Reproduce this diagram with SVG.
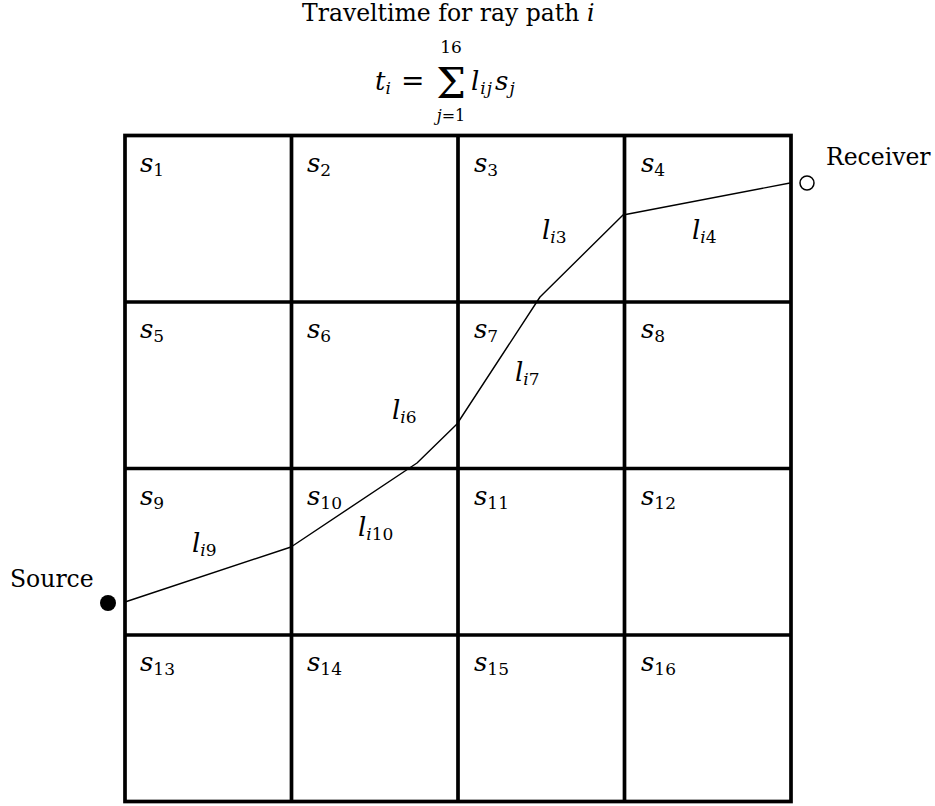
<svg xmlns="http://www.w3.org/2000/svg" width="935" height="806" viewBox="0 0 935 806">
<style>
text{font-family:"DejaVu Serif","Liberation Serif",serif;fill:#000}
.rm{font-size:23.5px}
.m{font-size:26px;font-style:italic}
.sub{font-size:17px;font-style:normal}
.subi{font-size:17px;font-style:italic}
.grid{stroke:#000;stroke-width:3.7;fill:none}
.ray{stroke:#000;stroke-width:1.4;fill:none;stroke-linejoin:round}
</style>
<rect width="935" height="806" fill="#fff"/>
<g id="title">
<text class="rm" x="302" y="21">Traveltime for ray path <tspan font-style="italic">i</tspan></text>
</g>
<g id="formula">
<text class="m" x="375" y="90" font-size="27">t<tspan class="subi" dy="4">i</tspan></text>
<text x="401" y="90" font-size="28">=</text>
<text x="451" y="98" font-size="42" text-anchor="middle">Σ</text>
<text x="451" y="53" font-size="17" text-anchor="middle">16</text>
<text x="451" y="121" font-size="16" text-anchor="middle"><tspan font-style="italic">j</tspan>=1</text>
<text class="m" x="471" y="90" font-size="28" letter-spacing="1">l<tspan class="subi" dy="4" font-size="19">ij</tspan><tspan dy="-4" dx="2">s</tspan><tspan class="subi" dy="4" font-size="19">j</tspan></text>
</g>
<g id="grid">
<rect class="grid" x="125" y="135.5" width="666" height="666"/>
<path class="grid" d="M291.5 135.5V801.5M458 135.5V801.5M624.5 135.5V801.5M125 302H791M125 468.5H791M125 635H791"/>
</g>
<g id="cells">
<text class="m" x="140" y="172">s<tspan class="sub" dy="4">1</tspan></text>
<text class="m" x="307" y="172">s<tspan class="sub" dy="4">2</tspan></text>
<text class="m" x="474" y="172">s<tspan class="sub" dy="4">3</tspan></text>
<text class="m" x="641" y="172">s<tspan class="sub" dy="4">4</tspan></text>
<text class="m" x="140" y="338">s<tspan class="sub" dy="4">5</tspan></text>
<text class="m" x="307" y="338">s<tspan class="sub" dy="4">6</tspan></text>
<text class="m" x="474" y="338">s<tspan class="sub" dy="4">7</tspan></text>
<text class="m" x="641" y="338">s<tspan class="sub" dy="4">8</tspan></text>
<text class="m" x="140" y="505">s<tspan class="sub" dy="4">9</tspan></text>
<text class="m" x="307" y="505">s<tspan class="sub" dy="4">10</tspan></text>
<text class="m" x="474" y="505">s<tspan class="sub" dy="4">11</tspan></text>
<text class="m" x="641" y="505">s<tspan class="sub" dy="4">12</tspan></text>
<text class="m" x="140" y="671">s<tspan class="sub" dy="4">13</tspan></text>
<text class="m" x="307" y="671">s<tspan class="sub" dy="4">14</tspan></text>
<text class="m" x="474" y="671">s<tspan class="sub" dy="4">15</tspan></text>
<text class="m" x="641" y="671">s<tspan class="sub" dy="4">16</tspan></text>
</g>
<g id="connectors">
<polyline class="ray" points="125,602 291,547 417,463 457,424 540,297 623,215 790,183"/>
</g>
<g id="ray-labels">
<text class="m" x="542" y="239">l<tspan class="subi" dy="4">i</tspan><tspan class="sub">3</tspan></text>
<text class="m" x="692" y="239">l<tspan class="subi" dy="4">i</tspan><tspan class="sub">4</tspan></text>
<text class="m" x="515" y="381">l<tspan class="subi" dy="4">i</tspan><tspan class="sub">7</tspan></text>
<text class="m" x="392" y="419">l<tspan class="subi" dy="4">i</tspan><tspan class="sub">6</tspan></text>
<text class="m" x="358" y="536">l<tspan class="subi" dy="4">i</tspan><tspan class="sub">10</tspan></text>
<text class="m" x="192" y="552">l<tspan class="subi" dy="4">i</tspan><tspan class="sub">9</tspan></text>
</g>
<g id="receiver">
<circle cx="807" cy="183" r="7" fill="#fff" stroke="#000" stroke-width="1.5"/>
<text class="rm" x="826" y="165">Receiver</text>
</g>
<g id="source">
<circle cx="108" cy="603" r="8" fill="#000"/>
<text class="rm" x="10" y="587">Source</text>
</g>
</svg>
